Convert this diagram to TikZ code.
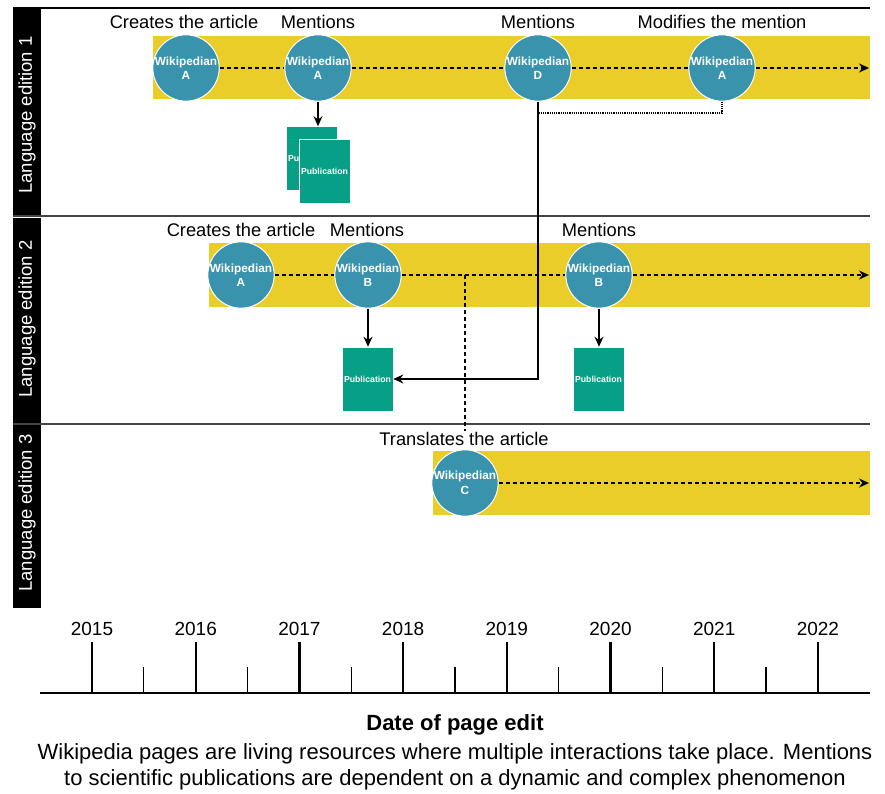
\documentclass[tikz,border=0pt]{standalone}
\usepackage{fontspec}
\setmainfont{Liberation Sans}
\usetikzlibrary{arrows.meta}
\definecolor{bandyellow}{HTML}{EACD29}
\definecolor{wikiblue}{HTML}{3A93AD}
\definecolor{pubgreen}{HTML}{07A086}
\definecolor{sepgray}{HTML}{444444}
\tikzset{
  wiki/.style={circle, fill=wikiblue, draw=white, line width=1pt, minimum size=64pt, inner sep=0pt,
    text=white, align=center, font=\bfseries\fontsize{11.8}{14.5}\selectfont},
  pub/.style={rectangle, fill=pubgreen, draw=white, line width=0.6pt, minimum width=51pt, minimum height=64pt,
    inner sep=0pt, text=white, font=\bfseries\fontsize{8.7}{10}\selectfont},
  band/.style={fill=bandyellow, draw=none},
  lanelabel/.style={text=white, rotate=90, font=\fontsize{18.5}{21}\selectfont, inner sep=0pt},
  evlabel/.style={font=\fontsize{18.3}{21}\selectfont, inner sep=1pt},
  yearlabel/.style={font=\fontsize{19}{22}\selectfont, inner sep=1pt},
  timeflow/.style={dash pattern=on 4pt off 3pt, line width=1.2pt},
  lastflow/.style={timeflow, -{Stealth[length=10pt,width=9pt]}},
  mention/.style={line width=1.3pt, -{Stealth[length=10pt,width=9pt]}},
  modline/.style={densely dotted, line width=1.2pt},
  transline/.style={dash pattern=on 4pt off 3pt, line width=1.2pt},
  sepline/.style={draw=sepgray, line width=2pt},
  majortick/.style={line width=2.4pt},
  minortick/.style={line width=1.2pt}
}
\begin{document}
\begin{tikzpicture}[x=1pt,y=-1pt]
\useasboundingbox (0,0) rectangle (885,794);
% frame and lane separators
\draw[line width=2pt] (13,8) -- (870,8);
\draw[sepline] (13,216.5) -- (870,216.5);
\draw[sepline] (13,423.5) -- (870,423.5);
% lane label bars
\fill[black] (13,9) rectangle (41,215.5);
\fill[black] (13,218) rectangle (41,422.5);
\fill[black] (13,425) rectangle (41,608);
\node[lanelabel] (lab1) at (27,115) {Language edition 1};
\node[lanelabel] (lab2) at (27,319) {Language edition 2};
\node[lanelabel] (lab3) at (27,513) {Language edition 3};
% bands
\fill[band] (153,36) rectangle (870,99.5);
\fill[band] (209,243) rectangle (870,306.5);
\fill[band] (433,451) rectangle (870,514.5);
% lane 1
\node[wiki] (a1) at (186,68) {Wikipedian\\A};
\node[wiki] (a2) at (318,68) {Wikipedian\\A};
\node[wiki] (a3) at (538,68) {Wikipedian\\D};
\node[wiki] (a4) at (722,68) {Wikipedian\\A};
\coordinate (a5) at (869,68);
\draw[timeflow] (a1) -- (a2);
\draw[timeflow] (a2) -- (a3);
\draw[timeflow] (a3) -- (a4);
\draw[lastflow] (a4) -- (a5);
\node[evlabel] (t1) at (184,22) {Creates the article};
\node[evlabel] (t2) at (318,22) {Mentions};
\node[evlabel] (t3) at (538,22) {Mentions};
\node[evlabel] (t4) at (722,22) {Modifies the mention};
% lane 2
\node[wiki] (b1) at (241,275) {Wikipedian\\A};
\node[wiki] (b2) at (368,275) {Wikipedian\\B};
\node[wiki] (b3) at (599,275) {Wikipedian\\B};
\coordinate (b4) at (869,275);
\draw[timeflow] (b1) -- (b2);
\draw[timeflow] (b2) -- (b3);
\draw[lastflow] (b3) -- (b4);
\node[evlabel] (u1) at (241,230) {Creates the article};
\node[evlabel] (u2) at (367,230) {Mentions};
\node[evlabel] (u3) at (599,230) {Mentions};
% lane 3
\node[wiki] (c1) at (465,483) {Wikipedian\\C};
\coordinate (c2) at (869,483);
\draw[lastflow] (c1) -- (c2);
\node[evlabel] (v1) at (464,439) {Translates the article};
% publications
\node[pub] (p1b) at (311.5,158.5) {Publication};
\node[pub] (p1) at (324.5,171) {Publication};
\node[pub] (p2) at (367.5,379) {Publication};
\node[pub] (p3) at (598.5,379) {Publication};
\draw[mention] (a2.south) -- (a2.south |- p1b.north);
\draw[mention] (b2.south) -- (b2.south |- p2.north);
\draw[mention] (b3.south) -- (b3.south |- p3.north);
\draw[mention] (a3.south) |- (p2.east);
\coordinate (join) at (538,113);
\draw[modline] (a4.south) |- (join);
\coordinate (trans) at (465,275);
\draw[transline] (trans) -- (v1.north -| trans);
% timeline
\draw[line width=1.5pt] (40,693) -- (870,693);
\foreach \yr [count=\i from 0] in {2015,2016,2017,2018,2019,2020,2021,2022} {
  \pgfmathsetmacro{\xx}{92+\i*103.7}
  \draw[majortick] (\xx,642) -- (\xx,693);
  \node[yearlabel] (y\yr) at (\xx,629) {\yr};
}
\foreach \i in {0,...,6} {
  \pgfmathsetmacro{\xx}{92+51.85+\i*103.7}
  \draw[minortick] (\xx,667) -- (\xx,693);
}
\node[font=\bfseries\fontsize{22}{26}\selectfont] (datelab) at (455,725) {Date of page edit};
\node[font=\fontsize{22}{26}\selectfont, align=center] (caption) at (455,767)
  {Wikipedia pages are living resources where multiple interactions take place. Mentions\\
   to scientific publications are dependent on a dynamic and complex phenomenon};
\end{tikzpicture}
\end{document}
